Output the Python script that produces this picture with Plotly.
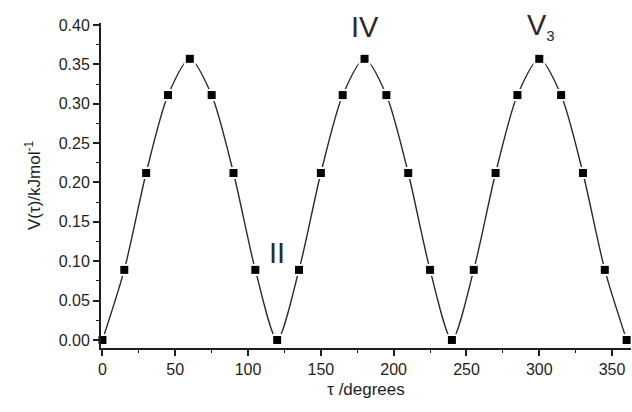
import plotly.graph_objects as go

# torsion angle (degrees) and potential energy (kJ/mol)
tau = [0, 15, 30, 45, 60, 75, 90, 105, 120,
       135, 150, 165, 180, 195, 210, 225, 240,
       255, 270, 285, 300, 315, 330, 345, 360]
energy = [0.000, 0.089, 0.212, 0.311, 0.357, 0.311, 0.212, 0.089, 0.000,
          0.089, 0.212, 0.311, 0.357, 0.311, 0.212, 0.089, 0.000,
          0.089, 0.212, 0.311, 0.357, 0.311, 0.212, 0.089, 0.000]

x_ticks = [0, 50, 100, 150, 200, 250, 300, 350]
y_ticks = [0.00, 0.05, 0.10, 0.15, 0.20, 0.25, 0.30, 0.35, 0.40]

FONT = "Liberation Sans, Arial, sans-serif"
INK = "#1e1e1e"

fig = go.Figure()

# smooth curve through the computed points
fig.add_trace(go.Scatter(
    x=tau, y=energy, mode="lines",
    line=dict(color="#2a2a2a", width=1.4, shape="spline", smoothing=0.75),
    hoverinfo="skip", showlegend=False,
))
# white halo so the curve breaks around each symbol
fig.add_trace(go.Scatter(
    x=tau, y=energy, mode="markers",
    marker=dict(symbol="square", size=12, color="white"),
    hoverinfo="skip", showlegend=False, cliponaxis=False,
))
fig.add_trace(go.Scatter(
    x=tau, y=energy, mode="markers",
    marker=dict(symbol="square", size=8, color="black"),
    showlegend=False, cliponaxis=False,
))

label_font = dict(family=FONT, size=29, color="#2a2a2a")
fig.add_annotation(x=120, y=0.111, text="II", showarrow=False, font=label_font)
fig.add_annotation(x=180.5, y=0.397, text="IV", showarrow=False, font=label_font)
fig.add_annotation(x=301, y=0.398, text="V<sub><span style='font-size:15px'>3</span></sub>",
                   showarrow=False, font=label_font)

axis_common = dict(
    showline=True, linecolor=INK, linewidth=2,
    showgrid=False, zeroline=False, mirror=False,
    ticks="outside", ticklen=6, tickwidth=1.5, tickcolor=INK,
    tickfont=dict(family=FONT, size=16, color=INK),
)

fig.update_xaxes(
    range=[-1, 363],
    tickvals=x_ticks, ticktext=[str(v) for v in x_ticks],
    minor=dict(dtick=25, tick0=0, ticks="outside", ticklen=3, tickwidth=1.2, tickcolor=INK),
    title=dict(text="τ /degrees", font=dict(family=FONT, size=17, color=INK), standoff=6),
    **axis_common,
)
fig.update_yaxes(
    range=[-0.0102, 0.4025],
    tickvals=y_ticks, ticktext=[f"{v:.2f}" for v in y_ticks],
    minor=dict(dtick=0.025, tick0=0, ticks="outside", ticklen=3, tickwidth=1.2, tickcolor=INK),
    title=dict(text="V(τ)/kJmol<sup>-1</sup>", font=dict(family=FONT, size=17, color=INK), standoff=14),
    **axis_common,
)

fig.update_layout(
    width=632, height=412,
    margin=dict(l=101, r=1, t=23, b=64),
    paper_bgcolor="white", plot_bgcolor="white",
)

fig.write_html("out.html")
